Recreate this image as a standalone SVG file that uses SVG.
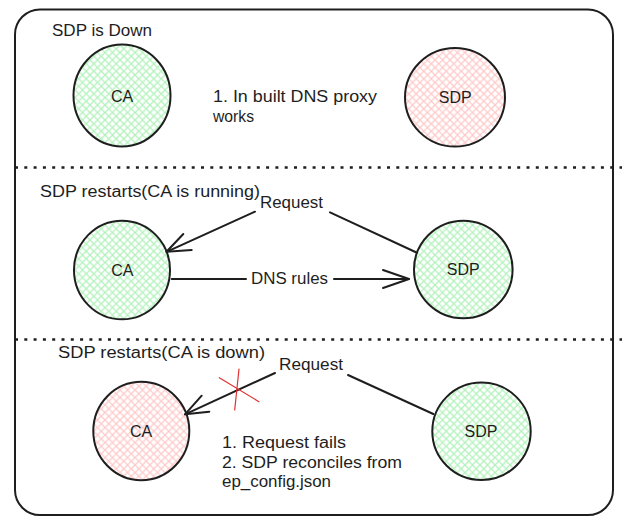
<svg xmlns="http://www.w3.org/2000/svg" width="622" height="524" viewBox="0 0 622 524">
  <defs>
    <pattern id="hatchGreen" patternUnits="userSpaceOnUse" width="7.5" height="7.5">
      <path d="M-1,-1 L8.5,8.5 M-1,8.5 L8.5,-1" stroke="#b2f2bb" stroke-width="1.3" fill="none"/>
    </pattern>
    <pattern id="hatchRed" patternUnits="userSpaceOnUse" width="7.5" height="7.5">
      <path d="M-1,-1 L8.5,8.5 M-1,8.5 L8.5,-1" stroke="#ffc9c9" stroke-width="1.3" fill="none"/>
    </pattern>
  </defs>
  <style>
    text { font-family: "Liberation Sans", "DejaVu Sans", sans-serif; font-size: 16px; fill: #1e1e1e; }
    .mid { text-anchor: middle; }
    .node { stroke: #1e1e1e; stroke-width: 2; }
    .green { fill: url(#hatchGreen); }
    .red { fill: url(#hatchRed); }
    .edge { stroke: #1e1e1e; stroke-width: 2; fill: none; stroke-linecap: round; stroke-linejoin: round; }
    .divider { stroke: #1e1e1e; stroke-width: 2.5; stroke-dasharray: 3 6.3; fill: none; }
    .cross { stroke: #e03131; stroke-width: 1.2; fill: none; stroke-linecap: round; }
  </style>
  <rect width="622" height="524" fill="#ffffff"/>

  <g id="frame">
    <rect x="15" y="9.5" width="598" height="505.5" rx="25" ry="25" fill="none" stroke="#1e1e1e" stroke-width="2"/>
    <line class="divider" x1="15" y1="167.5" x2="622" y2="167.5"/>
    <line class="divider" x1="15" y1="339.5" x2="622" y2="339.5"/>
  </g>

  <g id="labels">
    <text x="52" y="36" textLength="100" lengthAdjust="spacingAndGlyphs">SDP is Down</text>
    <text x="213" y="102" textLength="164" lengthAdjust="spacingAndGlyphs">1. In built DNS proxy</text>
    <text x="213" y="122" textLength="41" lengthAdjust="spacingAndGlyphs">works</text>
    <text x="40" y="197" textLength="220" lengthAdjust="spacingAndGlyphs">SDP restarts(CA is running)</text>
    <text x="58" y="358" textLength="207" lengthAdjust="spacingAndGlyphs">SDP restarts(CA is down)</text>
    <text x="222" y="448" textLength="124" lengthAdjust="spacingAndGlyphs">1. Request fails</text>
    <text x="222" y="468" textLength="180" lengthAdjust="spacingAndGlyphs">2. SDP reconciles from</text>
    <text x="222" y="487" textLength="109" lengthAdjust="spacingAndGlyphs">ep_config.json</text>
  </g>

  <g id="ca-1">
    <ellipse class="node green" cx="122" cy="95.5" rx="48.5" ry="51"/>
    <text class="mid" x="122" y="102">CA</text>
  </g>
  <g id="sdp-1">
    <ellipse class="node red" cx="455" cy="97.3" rx="50" ry="49.3"/>
    <text class="mid" x="455.3" y="103">SDP</text>
  </g>

  <g id="ca-2">
    <ellipse class="node green" cx="122" cy="270" rx="48" ry="49.3"/>
    <text class="mid" x="122.3" y="275.5">CA</text>
  </g>
  <g id="sdp-2">
    <ellipse class="node green" cx="463.3" cy="269.5" rx="49.3" ry="48.8"/>
    <text class="mid" x="463.3" y="275">SDP</text>
  </g>

  <g id="ca-3">
    <ellipse class="node red" cx="141.3" cy="431" rx="48" ry="49.2"/>
    <text class="mid" x="141" y="437">CA</text>
  </g>
  <g id="sdp-3">
    <ellipse class="node green" cx="481.5" cy="431.3" rx="49.2" ry="48.7"/>
    <text class="mid" x="481" y="436.5">SDP</text>
  </g>

  <g id="connectors">
    <!-- Section 2: Request SDP -> CA -->
    <path class="edge" d="M416.5,252.5 L330,212.3"/>
    <path class="edge" d="M255,211.7 L166.5,251.8"/>
    <path class="edge" d="M183.3,234 L166.5,251.8 L191.7,250"/>
    <text x="260" y="208" textLength="63" lengthAdjust="spacingAndGlyphs">Request</text>
    <!-- Section 2: DNS rules CA -> SDP -->
    <path class="edge" d="M171.7,279 L246,279"/>
    <path class="edge" d="M334,279 L409,279"/>
    <path class="edge" d="M383,270 L409,279 L383,288"/>
    <text x="251" y="283.5" textLength="77" lengthAdjust="spacingAndGlyphs">DNS rules</text>
    <!-- Section 3: Request SDP -> CA (fails) -->
    <path class="edge" d="M433.3,414 L348,375"/>
    <path class="edge" d="M275,373 L185,414.3"/>
    <path class="edge" d="M201.7,395.7 L185,414.3 L209.3,411.7"/>
    <text x="279" y="370" textLength="64" lengthAdjust="spacingAndGlyphs">Request</text>
    <path class="cross" d="M219.3,377.7 L259,401.7 M239,369 L234.7,410"/>
  </g>
</svg>
